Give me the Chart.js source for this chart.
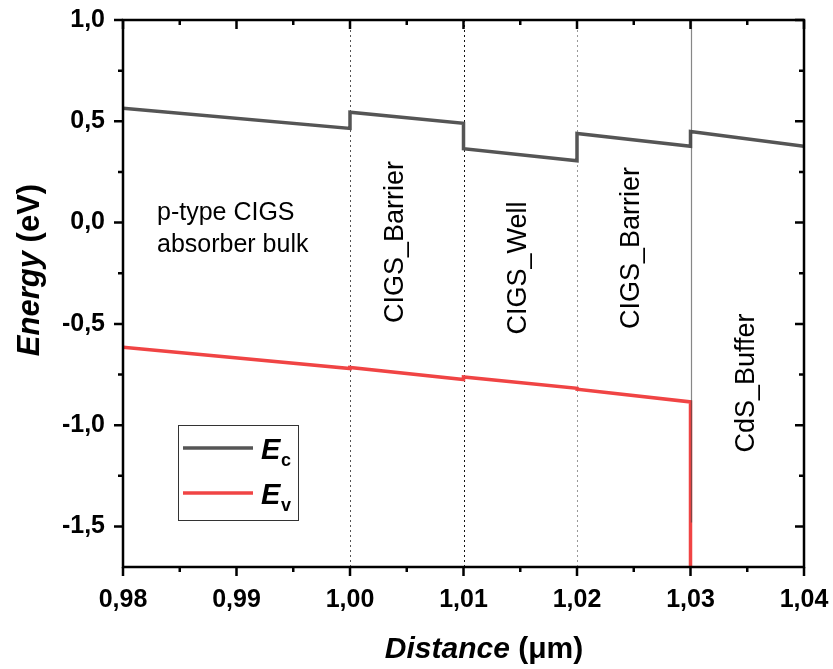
<!DOCTYPE html>
<html>
<head>
<meta charset="utf-8">
<script src="https://cdn.jsdelivr.net/npm/chart.js@4.4.1/dist/chart.umd.min.js"></script>
<style>
  html, body { margin: 0; padding: 0; background: #fff; }
  #wrap { width: 833px; height: 669px; }
</style>
</head>
<body>
<div id="wrap"><canvas id="bandChart" width="833" height="669"></canvas></div>
<script>
// ── data ──
var ecX = [0.98, 1.00, 1.00, 1.01, 1.01, 1.02, 1.02, 1.03, 1.03, 1.04];
var ecY = [0.565, 0.465, 0.545, 0.49, 0.365, 0.305, 0.44, 0.377, 0.45, 0.377];

var evX = [0.98, 1.00, 1.00, 1.01, 1.01, 1.02, 1.02, 1.03, 1.03];
var evY = [-0.615, -0.72, -0.715, -0.775, -0.762, -0.818, -0.822, -0.885, -1.75];

var xTicks = [0.98, 0.99, 1.00, 1.01, 1.02, 1.03, 1.04];
var yTicks = [1.0, 0.5, 0.0, -0.5, -1.0, -1.5];

var interfacesX = [1.00, 1.01, 1.02, 1.03];
var layerLabels = ['CIGS_Barrier', 'CIGS_Well', 'CIGS_Barrier', 'CdS_Buffer'];
var bulkLabel = ['p-type CIGS', 'absorber bulk'];

var FONT = '"Liberation Sans", Arial, sans-serif';

function toPoints(xs, ys) {
  var pts = [];
  for (var i = 0; i < xs.length; i++) pts.push({ x: xs[i], y: ys[i] });
  return pts;
}

function commaFmt(v, d) {
  return v.toFixed(d).replace('.', ',');
}

// ── interface lines, frame, ticks, annotations ──
var bandPlugin = {
  id: 'bandPlugin',
  beforeDatasetsDraw: function(chart) {
    var ctx = chart.ctx, a = chart.chartArea, xs = chart.scales.x;
    var styles = ['#555', '#111', '#999'];
    ctx.save();
    ctx.lineWidth = 1;
    ctx.setLineDash([2, 3]);
    for (var i = 0; i < 3; i++) {
      var px = Math.round(xs.getPixelForValue(interfacesX[i])) + 0.5;
      ctx.strokeStyle = styles[i];
      ctx.beginPath();
      ctx.moveTo(px, a.top);
      ctx.lineTo(px, a.bottom);
      ctx.stroke();
    }
    ctx.restore();
  },
  afterDatasetsDraw: function(chart) {
    var ctx = chart.ctx, a = chart.chartArea, xs = chart.scales.x, ys = chart.scales.y;
    ctx.save();
    // solid interface at CIGS / CdS
    var px = Math.round(xs.getPixelForValue(interfacesX[3])) + 0.5;
    ctx.strokeStyle = 'rgba(70,70,70,0.65)';
    ctx.lineWidth = 1.2;
    ctx.beginPath();
    ctx.moveTo(px, a.top);
    ctx.lineTo(px, ys.getPixelForValue(-1.48));
    ctx.stroke();

    // frame
    ctx.strokeStyle = '#000';
    ctx.lineWidth = 2.5;
    ctx.strokeRect(a.left, a.top, a.right - a.left, a.bottom - a.top);

    // ticks
    ctx.lineWidth = 2.5;
    ctx.beginPath();
    var v, p, major;
    for (v = 0.98; v <= 1.0401; v += 0.005) {
      p = xs.getPixelForValue(v);
      major = Math.abs(Math.round(v * 100) - v * 100) < 1e-6;
      var len = major ? 9 : 5;
      ctx.moveTo(p, a.bottom);
      ctx.lineTo(p, a.bottom + len);
      ctx.moveTo(p, a.top);
      ctx.lineTo(p, a.top + len);
    }
    for (v = -1.5; v <= 1.0001; v += 0.25) {
      p = ys.getPixelForValue(v);
      major = Math.abs(Math.round(v * 2) - v * 2) < 1e-6;
      var l2 = major ? 9 : 5;
      ctx.moveTo(a.left, p);
      ctx.lineTo(a.left - l2, p);
      ctx.moveTo(a.right, p);
      ctx.lineTo(a.right - l2, p);
    }
    ctx.stroke();

    // bulk label
    ctx.fillStyle = '#000';
    ctx.font = '25px ' + FONT;
    ctx.textBaseline = 'middle';
    ctx.textAlign = 'left';
    ctx.fillText(bulkLabel[0], 157, 213);
    ctx.fillText(bulkLabel[1], 157, 245);

    // layer labels (rotated)
    var lx = [396, 519, 632, 747];
    var ly = [242, 268, 248, 383];
    ctx.textAlign = 'center';
    ctx.font = '27px ' + FONT;
    for (var i = 0; i < layerLabels.length; i++) {
      ctx.save();
      ctx.translate(lx[i], ly[i]);
      ctx.rotate(-Math.PI / 2);
      ctx.fillText(layerLabels[i], 0, 0);
      ctx.restore();
    }

    // legend
    ctx.strokeStyle = '#333';
    ctx.lineWidth = 1;
    ctx.strokeRect(178.5, 425.5, 120, 95);
    ctx.lineWidth = 3.5;
    ctx.strokeStyle = '#555';
    ctx.beginPath(); ctx.moveTo(183, 448); ctx.lineTo(253, 448); ctx.stroke();
    ctx.strokeStyle = '#f04444';
    ctx.beginPath(); ctx.moveTo(183, 493); ctx.lineTo(253, 493); ctx.stroke();
    ctx.textAlign = 'left';
    ctx.textBaseline = 'alphabetic';
    ctx.font = 'italic bold 29px ' + FONT;
    ctx.fillText('E', 261, 459);
    ctx.fillText('E', 261, 504);
    ctx.font = 'bold 18px ' + FONT;
    ctx.fillText('c', 281, 466);
    ctx.fillText('v', 281, 511);

    // axis titles
    ctx.font = 'italic bold 30px ' + FONT;
    var w1 = ctx.measureText('Distance').width;
    ctx.font = 'bold 30px ' + FONT;
    var w2 = ctx.measureText(' (\u03bcm)').width;
    var sx = 484 - (w1 + w2) / 2;
    ctx.textBaseline = 'middle';
    ctx.font = 'italic bold 30px ' + FONT;
    ctx.fillText('Distance', sx, 650);
    ctx.font = 'bold 30px ' + FONT;
    ctx.fillText(' (\u03bcm)', sx + w1, 650);

    ctx.translate(30, 270);
    ctx.rotate(-Math.PI / 2);
    ctx.font = 'italic bold 31px ' + FONT;
    var e1 = ctx.measureText('Energy').width;
    ctx.font = 'bold 31px ' + FONT;
    var e2 = ctx.measureText(' (eV)').width;
    var ex = -(e1 + e2) / 2;
    ctx.font = 'italic bold 31px ' + FONT;
    ctx.fillText('Energy', ex, 0);
    ctx.font = 'bold 31px ' + FONT;
    ctx.fillText(' (eV)', ex + e1, 0);
    ctx.restore();
  }
};

var ctx = document.getElementById('bandChart').getContext('2d');
new Chart(ctx, {
  type: 'line',
  data: {
    datasets: [
      {
        label: 'Ec',
        data: toPoints(ecX, ecY),
        borderColor: '#555555',
        borderWidth: 3.5,
        pointRadius: 0,
        fill: false,
        tension: 0
      },
      {
        label: 'Ev',
        data: toPoints(evX, evY),
        borderColor: '#f04444',
        borderWidth: 3.5,
        pointRadius: 0,
        fill: false,
        tension: 0
      }
    ]
  },
  options: {
    responsive: false,
    animation: false,
    layout: { padding: { left: 0, top: 20, right: 29, bottom: 0 } },
    plugins: {
      legend: { display: false },
      tooltip: { enabled: false }
    },
    scales: {
      x: {
        type: 'linear',
        min: 0.98,
        max: 1.04,
        afterBuildTicks: function(scale) {
          scale.ticks = xTicks.map(function(v) { return { value: v }; });
        },
        afterFit: function(scale) {
          scale.height = 102;
          scale.paddingLeft = 0;
          scale.paddingRight = 0;
        },
        grid: { display: false, drawTicks: false },
        border: { display: false },
        ticks: {
          color: '#000',
          padding: 18,
          maxRotation: 0,
          font: { family: FONT, size: 25, weight: 'bold' },
          callback: function(v) { return commaFmt(v, 2); }
        }
      },
      y: {
        type: 'linear',
        min: -1.7,
        max: 1.0,
        afterBuildTicks: function(scale) {
          scale.ticks = yTicks.map(function(v) { return { value: v }; });
        },
        afterFit: function(scale) {
          scale.width = 123;
          scale.paddingTop = 0;
          scale.paddingBottom = 0;
        },
        grid: { display: false, drawTicks: false },
        border: { display: false },
        ticks: {
          color: '#000',
          padding: 18,
          font: { family: FONT, size: 25, weight: 'bold' },
          callback: function(v) { return commaFmt(v, 1); }
        }
      }
    }
  },
  plugins: [bandPlugin]
});
</script>
</body>
</html>
